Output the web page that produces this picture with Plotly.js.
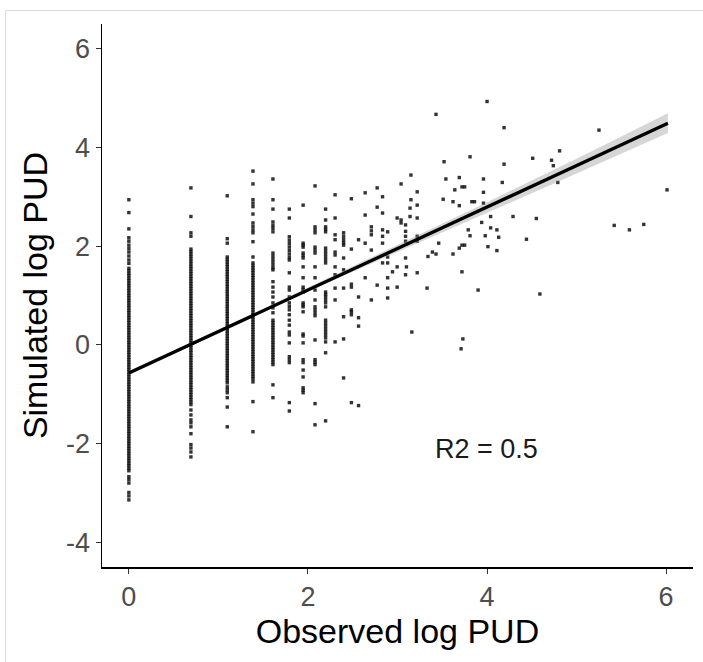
<!DOCTYPE html>
<html>
<head>
<meta charset="utf-8">
<script src="https://cdn.plot.ly/plotly-3.0.1.min.js"></script>
<style>
  html, body { margin: 0; padding: 0; background: #fff; }
  #frame { position: absolute; left: 5px; top: 10px; width: 800px; height: 800px; border: 1px solid #dcdcdc; box-sizing: border-box; pointer-events: none; z-index: 5; }
  #chart { position: absolute; left: 0; top: 0; width: 703px; height: 662px; }
</style>
</head>
<body>
<div id="chart"></div>
<div id="frame"></div>
<script>
// Observed log PUD columns (log of small integer counts)
const colX = [0, 0.693, 1.099, 1.386, 1.609, 1.792, 1.946, 2.079, 2.197, 2.303, 2.398, 2.485, 2.565, 2.639, 2.708, 2.773, 2.833, 2.89, 2.944, 2.996];
// Simulated log PUD values in each column
const colY = [
  [2.94,2.68,2.35,2.17,2.1,2.02,1.95,1.88,1.8,1.72,1.65,1.55,1.5,1.45,1.4,1.35,1.3,1.25,1.2,1.15,1.1,1.05,1,0.95,0.9,0.85,0.8,0.75,0.7,0.65,0.6,0.55,0.5,0.45,0.4,0.35,0.3,0.25,0.2,0.15,0.1,0.05,0,-0.05,-0.1,-0.15,-0.2,-0.25,-0.3,-0.35,-0.4,-0.45,-0.5,-0.55,-0.6,-0.65,-0.7,-0.75,-0.8,-0.85,-0.9,-0.95,-1,-1.05,-1.1,-1.15,-1.2,-1.25,-1.3,-1.35,-1.4,-1.45,-1.5,-1.55,-1.6,-1.65,-1.7,-1.75,-1.8,-1.85,-1.9,-1.95,-2,-2.05,-2.1,-2.15,-2.2,-2.25,-2.3,-2.35,-2.4,-2.45,-2.5,-2.55,-2.67,-2.73,-2.8,-2.99,-3.06,-3.14],
  [3.18,2.6,2.27,2.2,1.94,1.89,1.84,1.79,1.74,1.69,1.64,1.59,1.54,1.49,1.44,1.39,1.34,1.29,1.24,1.19,1.14,1.09,1.04,0.99,0.94,0.89,0.84,0.79,0.74,0.69,0.64,0.59,0.54,0.49,0.44,0.39,0.34,0.29,0.24,0.19,0.14,0.09,0.04,-0.01,-0.06,-0.11,-0.16,-0.21,-0.26,-0.31,-0.36,-0.41,-0.46,-0.51,-0.56,-0.61,-0.66,-0.71,-0.76,-0.81,-0.86,-0.91,-0.96,-1.01,-1.06,-1.11,-1.16,-1.21,-1.32,-1.42,-1.52,-1.58,-1.66,-1.8,-2.02,-2.09,-2.17,-2.27],
  [3.02,2.15,2.06,1.78,1.73,1.68,1.63,1.58,1.53,1.48,1.43,1.38,1.33,1.28,1.23,1.18,1.13,1.08,1.03,0.98,0.93,0.88,0.83,0.78,0.73,0.68,0.63,0.58,0.53,0.48,0.43,0.38,0.33,0.28,0.23,0.18,0.13,0.08,0.03,-0.02,-0.07,-0.12,-0.17,-0.22,-0.27,-0.32,-0.37,-0.42,-0.47,-0.52,-0.57,-0.62,-0.67,-0.72,-0.77,-0.85,-0.91,-0.97,-1.07,-1.26,-1.66],
  [3.52,3.26,2.94,2.87,2.8,2.65,2.47,2.4,2.33,2.27,2.09,1.78,1.66,1.61,1.56,1.51,1.46,1.41,1.36,1.31,1.26,1.21,1.16,1.11,1.06,1.01,0.96,0.91,0.86,0.81,0.76,0.71,0.66,0.61,0.56,0.51,0.46,0.41,0.36,0.31,0.26,0.21,0.16,0.11,0.06,0.01,-0.04,-0.09,-0.14,-0.19,-0.24,-0.29,-0.34,-0.39,-0.44,-0.49,-0.54,-0.59,-0.64,-0.69,-0.75,-1.15,-1.76],
  [3.36,2.94,2.75,2.49,2.42,2.36,2.29,1.86,1.8,1.74,1.68,1.62,1.56,1.52,1.28,1.17,1.07,0.97,0.85,0.75,0.65,0.5,0.45,0.4,0.35,0.3,0.25,0.2,0.15,0.1,0.05,0,-0.05,-0.1,-0.15,-0.2,-0.25,-0.3,-0.35,-0.4,-0.81,-1.07],
  [2.75,2.57,2.19,2.12,2.05,1.98,1.91,1.84,1.77,1.72,1.46,1.17,1.11,0.97,0.85,0.78,0.71,0.61,0.5,0.4,0.26,0.2,0.04,-0.24,-0.3,-0.36,-1.17,-1.34],
  [2.83,2.06,2.02,1.98,1.86,1.81,1.76,1.58,1.36,1.17,1.12,1.07,0.85,0.81,0.77,0.67,0.22,0.18,0.04,-0.3,-0.36,-0.51,-0.65,-0.87,-0.92,-0.97],
  [3.22,2.39,2.33,2.27,1.98,1.92,1.86,1.58,1.36,1.11,0.91,0.77,0.71,0.65,0.59,0.1,-0.3,-0.35,-0.4,-1.19,-1.62],
  [2.75,2.53,2.39,2.34,2.29,1.96,1.9,1.84,1.78,1.72,1.66,1.07,1.02,0.97,0.91,0.85,0.77,0.5,0.44,0.38,0.32,0.26,0.2,0.14,0.06,-0.16,-1.54],
  [3.04,2.57,2.23,2.13,1.88,1.82,1.58,1.42,1.15,0.91,0.06],
  [2.27,2.2,2.13,2.07,2.02,1.76,1.52,1.15,0.57,0.12,-0.67],
  [2.96,1.94,1.23,1.17,0.71,0.67,0.61,-1.17],
  [2.13,0.97,0.55,0.38,-1.23],
  [3.08,2.63,2.06,1.36],
  [2.39,2.31,2.23,1.92,0.91],
  [3.18,2.79,1.21],
  [3.0,2.67,2.33,2.2,2.06,1.66],
  [2.29,1.78,1.66,1.36,1.15,0.95],
  [1.48],
  [2.57,1.58,1.17]
];
// Scattered points at larger observed values
const looseX = [3.04,3.04,3.04,3.09,3.09,3.09,3.09,3.09,3.09,3.1,3.16,3.14,3.14,3.15,3.15,3.22,3.22,3.22,3.22,3.22,3.22,3.33,3.34,3.39,3.43,3.43,3.46,3.51,3.52,3.54,3.62,3.62,3.64,3.69,3.69,3.69,3.72,3.72,3.72,3.73,3.71,3.75,3.75,3.79,3.81,3.81,3.83,3.86,3.9,3.94,3.96,3.96,3.96,3.98,4.0,4.01,4.04,4.04,4.11,4.11,4.13,4.17,4.19,4.19,4.29,4.44,4.51,4.55,4.59,4.72,4.74,4.79,4.81,5.25,5.42,5.59,5.75,6.01];
const looseY = [3.26,2.53,2.47,2.43,2.3,2.2,2.1,1.76,1.42,1.58,0.26,2.77,2.6,3.44,2.94,3.1,2.83,2.57,2.2,2.1,1.46,1.15,1.79,1.88,4.67,1.84,2.06,2.95,3.71,3.36,2.9,1.84,3.14,3.39,2.82,1.96,3.2,1.48,2.02,0.12,-0.08,3.2,2.02,2.33,3.81,2.21,2.9,2.9,1.11,2.48,3.36,3.09,2.87,2.21,4.93,1.99,2.6,2.37,2.33,1.91,2.18,3.29,4.4,3.66,2.6,2.14,3.78,2.56,1.03,3.74,3.63,3.29,3.93,4.35,2.42,2.33,2.44,3.14];
// Linear fit and its confidence band
const fitX = [0, 6.02];
const fitY = [-0.57, 4.49];
const bandX = [0, 1, 2, 3, 4, 5, 6.02];
const bandLo = [-0.61, 0.24, 1.08, 1.88, 2.67, 3.47, 4.29];
const bandHi = [-0.53, 0.30, 1.16, 2.02, 2.89, 3.77, 4.69];
// Axis ticks
const xTicks = [0, 2, 4, 6];
const xTickText = ['0', '2', '4', '6'];
const yTicks = [-4, -2, 0, 2, 4, 6];
const yTickText = ['-4', '-2', '0', '2', '4', '6'];
const r2Label = 'R2 = 0.5';
const r2Pos = [3.99, -2.1];

const px = [], py = [];
colX.forEach((x, i) => colY[i].forEach(y => { px.push(x); py.push(y); }));
looseX.forEach((x, i) => { px.push(x); py.push(looseY[i]); });

const traces = [
  { type: 'scatter', mode: 'markers', x: px, y: py,
    marker: { symbol: 'square', size: 3.4, color: 'rgba(15,15,15,0.85)', line: { width: 0 } },
    hoverinfo: 'skip', showlegend: false },
  { type: 'scatter', mode: 'lines', x: bandX, y: bandLo, line: { width: 0, color: 'rgba(0,0,0,0)' },
    hoverinfo: 'skip', showlegend: false },
  { type: 'scatter', mode: 'lines', x: bandX, y: bandHi, fill: 'tonexty', fillcolor: 'rgba(153,153,153,0.4)',
    line: { width: 0, color: 'rgba(0,0,0,0)' }, hoverinfo: 'skip', showlegend: false },
  { type: 'scatter', mode: 'lines', x: fitX, y: fitY, line: { color: '#000', width: 3.3 },
    hoverinfo: 'skip', showlegend: false }
];

const tickFont = { family: 'Liberation Sans, Arial, sans-serif', size: 27, color: '#4d4d4d' };
const titleFont = { family: 'Liberation Sans, Arial, sans-serif', size: 34, color: '#000' };

const layout = {
  width: 703, height: 662,
  margin: { l: 102, r: 10, t: 24, b: 95 },
  paper_bgcolor: 'rgba(0,0,0,0)', plot_bgcolor: '#fff',
  showlegend: false,
  font: { family: 'Liberation Sans, Arial, sans-serif' },
  xaxis: {
    range: [-0.3, 6.3], tickvals: xTicks, ticktext: xTickText,
    showline: true, linecolor: '#000', linewidth: 1.5, mirror: false,
    ticks: 'outside', ticklen: 5, tickwidth: 1, tickcolor: '#333',
    showgrid: false, zeroline: false, tickfont: tickFont,
    title: { text: 'Observed log PUD', font: titleFont, standoff: 8 }
  },
  yaxis: {
    range: [-4.5, 6.5], tickvals: yTicks, ticktext: yTickText,
    showline: true, linecolor: '#000', linewidth: 1.5, mirror: false,
    ticks: 'outside', ticklen: 5, tickwidth: 1, tickcolor: '#333',
    showgrid: false, zeroline: false, tickfont: tickFont,
    title: { text: 'Simulated log PUD', font: titleFont, standoff: 8 }
  },
  annotations: [{
    x: r2Pos[0], y: r2Pos[1], xref: 'x', yref: 'y', text: r2Label, showarrow: false,
    font: { family: 'Liberation Sans, Arial, sans-serif', size: 27, color: '#1a1a1a' }
  }]
};

Plotly.newPlot('chart', traces, layout, { displayModeBar: false, staticPlot: true });
</script>
</body>
</html>
